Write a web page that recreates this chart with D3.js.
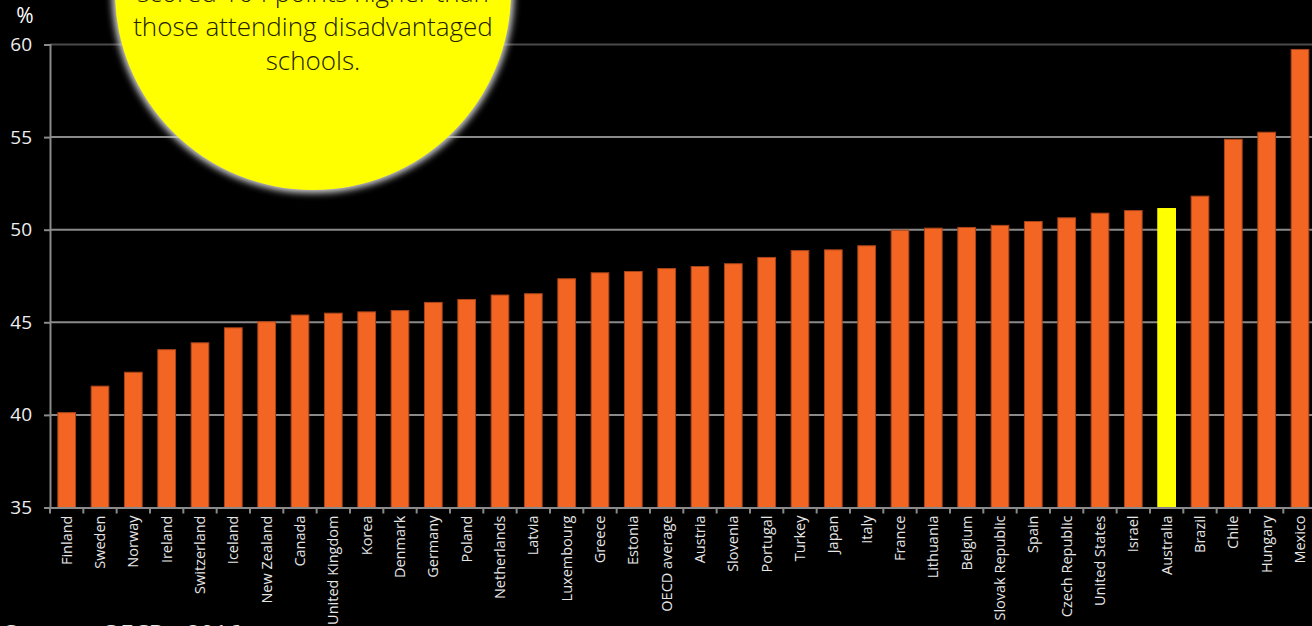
<!DOCTYPE html>
<html>
<head>
<meta charset="utf-8">
<script src="https://cdn.jsdelivr.net/npm/d3@7"></script>
<style>
  html, body { margin: 0; padding: 0; background: #000; overflow: hidden; }
  svg { display: block; }
  text { font-family: "Open Sans", "Noto Sans", sans-serif; }
</style>
</head>
<body>
<svg id="chart" width="1312" height="626"></svg>
<script>
// ---- data ----
const categories = ["Finland","Sweden","Norway","Ireland","Switzerland","Iceland","New Zealand","Canada","United Kingdom","Korea","Denmark","Germany","Poland","Netherlands","Latvia","Luxembourg","Greece","Estonia","OECD average","Austria","Slovenia","Portugal","Turkey","Japan","Italy","France","Lithuania","Belgium","Slovak Republic","Spain","Czech Republic","United States","Israel","Australia","Brazil","Chile","Hungary","Mexico"];
const values = [40.15,41.58,42.33,43.55,43.92,44.73,45.06,45.42,45.52,45.59,45.66,46.1,46.26,46.5,46.57,47.38,47.7,47.77,47.93,48.04,48.19,48.53,48.9,48.94,49.16,50.0,50.11,50.15,50.26,50.47,50.67,50.92,51.06,51.17,51.84,54.91,55.29,59.76];
const highlighted = ["Australia"];
const yTicks = [35,40,45,50,55,60];
const yUnit = "%";
const calloutLines = ["scored 104 points higher than","those attending disadvantaged","schools."];
const sourceText = "Source: OECD, 2016";

// ---- layout ----
const svg = d3.select("#chart");
const mLeft = 50, mTop = 44.5, mBottom = 507.5;
const step = 33.333;
const x = d3.scaleBand().domain(categories).range([mLeft, mLeft + step * categories.length]).paddingInner(0.44).paddingOuter(0.22);
const y = d3.scaleLinear().domain([35, 60]).range([mBottom, mTop]);
const plotRight = 1312;

// gridlines
svg.append("g").selectAll("line").data(yTicks.filter(t => t > 35)).join("line")
  .attr("x1", mLeft).attr("x2", plotRight)
  .attr("y1", d => y(d)).attr("y2", d => y(d))
  .attr("stroke", d => d === 60 ? "#4a4a4a" : "#8a8a8a").attr("stroke-width", 2);

// bars
svg.append("g").selectAll("rect").data(categories).join("rect")
  .attr("x", d => x(d) + 0.5)
  .attr("y", (d, i) => y(values[i]) + 0.5)
  .attr("width", x.bandwidth() - 1)
  .attr("height", (d, i) => y(35) - y(values[i]) - 0.5)
  .attr("fill", d => highlighted.includes(d) ? "#ffff00" : "#f26522")
  .attr("stroke", d => highlighted.includes(d) ? "#ffff00" : "#a8441a")
  .attr("stroke-width", 1);

// y axis
const yAxis = svg.append("g").attr("transform", `translate(${mLeft},0)`)
  .call(d3.axisLeft(y).tickValues(yTicks).tickSize(6).tickPadding(12).tickFormat(d3.format("d")));
yAxis.select(".domain").attr("stroke", "#8a8a8a").attr("stroke-width", 2);
yAxis.selectAll(".tick line").attr("stroke", "#8a8a8a").attr("stroke-width", 2);
yAxis.selectAll(".tick text").attr("fill", "#eeeeee").attr("font-size", 19);

// x axis
const xAxis = svg.append("g").attr("transform", `translate(0,${mBottom})`)
  .call(d3.axisBottom(x).tickSize(0).tickPadding(0));
xAxis.select(".domain").attr("stroke", "#8a8a8a").attr("stroke-width", 2);
xAxis.selectAll(".tick text")
  .attr("fill", "#e6e6e6").attr("font-size", 14.5)
  .attr("text-anchor", "end")
  .attr("transform", "rotate(-90)")
  .attr("x", -8).attr("y", 0).attr("dy", "0.35em");
// tick marks at band boundaries
svg.append("g").selectAll("line").data(categories).join("line")
  .attr("x1", d => x(d) - x.step() * 0.22).attr("x2", d => x(d) - x.step() * 0.22)
  .attr("y1", mBottom).attr("y2", mBottom + 6)
  .attr("stroke", "#8a8a8a").attr("stroke-width", 2);

// unit label
svg.append("text").attr("x", 25).attr("y", 23).attr("text-anchor", "middle")
  .attr("fill", "#ffffff").attr("font-size", 21).text(yUnit);

// callout circle with glow
const defs = svg.append("defs");
const f = defs.append("filter").attr("id", "glow").attr("x", "-20%").attr("y", "-20%").attr("width", "140%").attr("height", "140%");
f.append("feGaussianBlur").attr("stdDeviation", 3.5);
svg.append("circle").attr("cx", 313).attr("cy", -8).attr("r", 201)
  .attr("fill", "#d8d8d8").attr("filter", "url(#glow)");
svg.append("circle").attr("cx", 313).attr("cy", -8).attr("r", 198).attr("fill", "#ffff00");
svg.append("g").selectAll("text").data(calloutLines).join("text")
  .attr("x", 313).attr("y", (d, i) => 1.5 + i * 34.3)
  .attr("text-anchor", "middle").attr("fill", "#222200")
  .attr("font-size", 26).attr("font-weight", 300)
  .text(d => d);

// source
svg.append("text").attr("x", 4).attr("y", 642).attr("fill", "#e6e6e6").attr("font-size", 24).attr("word-spacing", 8).text(sourceText);
</script>
</body>
</html>
